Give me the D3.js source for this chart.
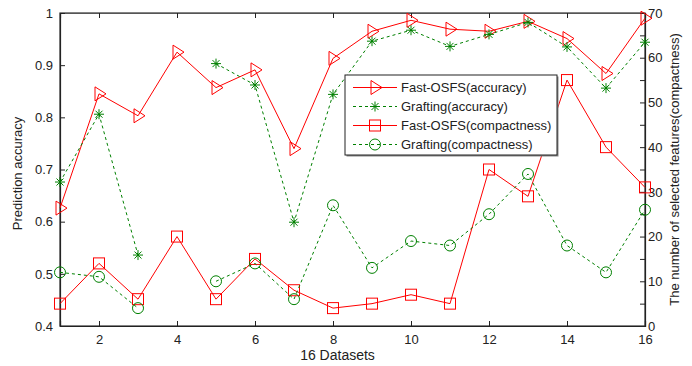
<!DOCTYPE html>
<html>
<head>
<meta charset="utf-8">
<script src="https://cdn.jsdelivr.net/npm/d3@7"></script>
<style>
  body { margin: 0; background: #fff; }
  svg { font-family: "Liberation Sans", Arial, sans-serif; }
</style>
</head>
<body>
<svg id="chart" width="692" height="366"></svg>
<script>
"use strict";

// datasets 1..16
const datasets = d3.range(1, 17);
const fastAcc = [0.626, 0.845, 0.803, 0.925, 0.857, 0.891, 0.74, 0.913, 0.965, 0.986, 0.969, 0.965, 0.984, 0.951, 0.884, 0.99];
const graftAcc = [0.676, 0.806, 0.536, null, 0.903, 0.862, 0.599, 0.844, 0.946, 0.967, 0.936, 0.959, 0.982, 0.935, 0.856, 0.944];
const fastComp = [5, 14, 6, 20, 6, 15, 8, 4, 5, 7, 5, 35, 29, 55, 40, 31];
const graftComp = [12, 11, 4, null, 10, 14, 6, 27, 13, 19, 18, 25, 34, 18, 12, 26];

const xTicks = [2, 4, 6, 8, 10, 12, 14, 16];
const leftTicks = [0.4, 0.5, 0.6, 0.7, 0.8, 0.9, 1];
const rightTicks = [0, 10, 20, 30, 40, 50, 60, 70];

const red = "#ff0000", green = "#008000";
const dims = { left: 60, right: 645, top: 13, bottom: 326 };

const svg = d3.select("#chart");
const x = d3.scaleLinear().domain([1, 16]).range([dims.left, dims.right]);
const yL = d3.scaleLinear().domain([0.4, 1]).range([dims.bottom, dims.top]);
const yR = d3.scaleLinear().domain([0, 70]).range([dims.bottom, dims.top]);

// frame
svg.append("rect")
  .attr("x", dims.left).attr("y", dims.top)
  .attr("width", dims.right - dims.left).attr("height", dims.bottom - dims.top)
  .attr("fill", "none").attr("stroke", "#333").attr("stroke-width", 1.2);

const tickLen = 5;
const axisCol = "#222";

// bottom axis + top ticks
const axBottom = svg.append("g")
  .attr("transform", `translate(0,${dims.bottom})`)
  .call(d3.axisBottom(x).tickValues(xTicks).tickSize(-tickLen).tickPadding(9).tickFormat(d3.format("d")));
const axTop = svg.append("g")
  .attr("transform", `translate(0,${dims.top})`)
  .call(d3.axisTop(x).tickValues(xTicks).tickSize(-tickLen).tickFormat(""));

// left axis
const axLeft = svg.append("g")
  .attr("transform", `translate(${dims.left},0)`)
  .call(d3.axisLeft(yL).tickValues(leftTicks).tickSize(-tickLen).tickPadding(7).tickFormat(d3.format("")));

// right axis: ticks every 5, labels every 10
const axRight = svg.append("g")
  .attr("transform", `translate(${dims.right},0)`)
  .call(d3.axisRight(yR).tickValues(d3.range(0, 71, 5)).tickSize(-tickLen).tickPadding(3)
    .tickFormat((d) => (rightTicks.includes(d) ? d : "")));

[axBottom, axTop, axLeft, axRight].forEach((g) => {
  g.select(".domain").attr("stroke", axisCol).attr("stroke-width", 1.2);
  g.selectAll(".tick line").attr("stroke", axisCol);
  g.selectAll(".tick text").attr("fill", "#222").style("font-size", "13px");
});
axTop.select(".domain").attr("stroke", "#555");

// axis titles
svg.append("text")
  .attr("transform", `translate(22,${(dims.top + dims.bottom) / 2 + 4}) rotate(-90)`)
  .attr("text-anchor", "middle").style("font-size", "13px").attr("fill", "#222")
  .text("Prediction accuracy");
svg.append("text")
  .attr("x", (dims.left + dims.right) / 2 - 15).attr("y", 360)
  .attr("text-anchor", "middle").style("font-size", "14px").attr("fill", "#222")
  .text("16 Datasets");
svg.append("text")
  .attr("transform", `translate(679,${(dims.top + dims.bottom) / 2}) rotate(-90)`)
  .attr("text-anchor", "middle").style("font-size", "13px").attr("fill", "#222")
  .text("The number of selected features(compactness)");

// markers
const markers = {
  tri: (g, c) => g.append("path").attr("d", "M-4,-7 L7,0 L-4,7 Z").attr("fill", "none").attr("stroke", c),
  star: (g, c) => g.append("path").attr("d", "M-5,0H5M0,-5V5M-3.5,-3.5L3.5,3.5M-3.5,3.5L3.5,-3.5").attr("stroke", c),
  square: (g, c) => g.append("rect").attr("x", -5.5).attr("y", -5.5).attr("width", 11).attr("height", 11).attr("fill", "none").attr("stroke", c),
  circle: (g, c) => g.append("circle").attr("r", 5.5).attr("fill", "none").attr("stroke", c),
};

const series = [
  { name: "Fast-OSFS(accuracy)", values: fastAcc, y: yL, color: red, dash: null, marker: "tri" },
  { name: "Grafting(accuracy)", values: graftAcc, y: yL, color: green, dash: "3,3", marker: "star" },
  { name: "Fast-OSFS(compactness)", values: fastComp, y: yR, color: red, dash: null, marker: "square" },
  { name: "Grafting(compactness)", values: graftComp, y: yR, color: green, dash: "3,3", marker: "circle" },
];

series.forEach((s) => {
  const pts = datasets.map((d, i) => ({ d, v: s.values[i] }));
  const line = d3.line()
    .defined((p) => p.v !== null)
    .x((p) => x(p.d))
    .y((p) => s.y(p.v));
  svg.append("path")
    .datum(pts)
    .attr("d", line)
    .attr("fill", "none")
    .attr("stroke", s.color)
    .attr("stroke-width", 1)
    .attr("stroke-dasharray", s.dash);
  pts.filter((p) => p.v !== null).forEach((p) => {
    const g = svg.append("g").attr("transform", `translate(${x(p.d)},${s.y(p.v)})`);
    markers[s.marker](g, s.color).attr("stroke-width", 1);
  });
});

// legend
const lg = svg.append("g").attr("transform", "translate(345,75)");
lg.append("rect").attr("x", 1.5).attr("y", 1.5).attr("width", 212).attr("height", 80).attr("fill", "#888");
lg.append("rect").attr("width", 212).attr("height", 80).attr("fill", "#fff").attr("stroke", "#222");
series.forEach((s, i) => {
  const cy = 12.5 + i * 19;
  lg.append("line").attr("x1", 8).attr("x2", 52).attr("y1", cy).attr("y2", cy)
    .attr("stroke", s.color).attr("stroke-dasharray", s.dash);
  const g = lg.append("g").attr("transform", `translate(30,${cy})`);
  markers[s.marker](g, s.color);
  lg.append("text").attr("x", 56).attr("y", cy + 4.5)
    .style("font-size", "13px").attr("fill", "#222").text(s.name);
});
</script>
</body>
</html>
